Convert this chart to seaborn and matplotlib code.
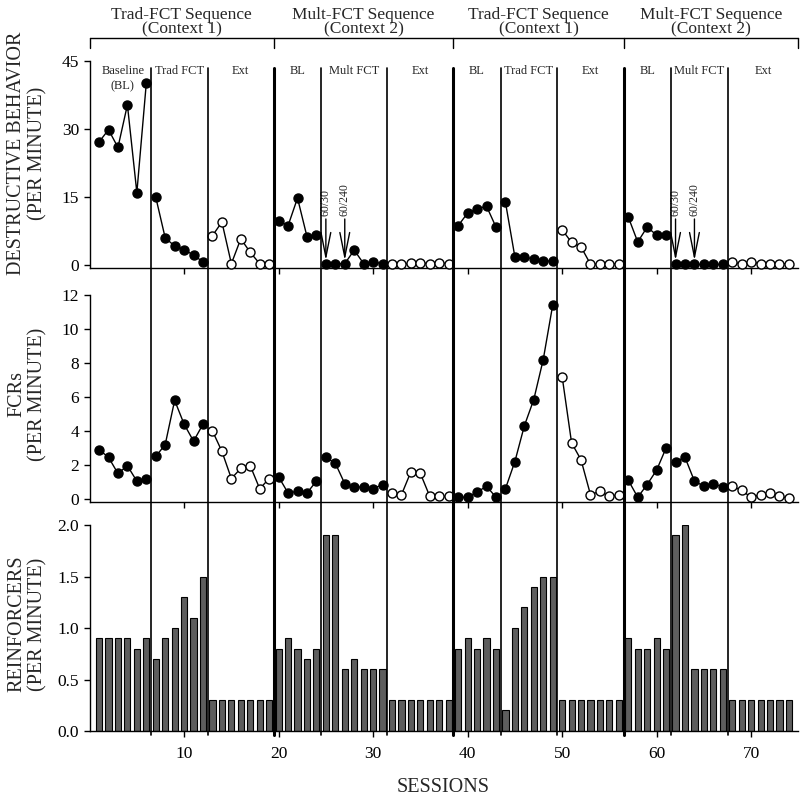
import numpy as np
import pandas as pd
import matplotlib
matplotlib.use('Agg')
import matplotlib.pyplot as plt
import matplotlib.transforms as mtransforms
from matplotlib.lines import Line2D
import seaborn as sns

# session numbers
sessions = np.arange(1, 75)

# destructive behavior per minute
destructive = [27.1, 29.8, 25.9, 35.3, 15.9, 40.1,
               14.9, 5.9, 4.1, 3.3, 2.1, 0.6,
               6.4, 9.4, 0.2, 5.7, 2.7, 0.2, 0.2,
               9.7, 8.6, 14.7, 6.2, 6.6,
               0.2, 0.2, 0.2, 3.2, 0.2, 0.6, 0.2,
               0.2, 0.1, 0.3, 0.4, 0.2, 0.4, 0.2,
               8.6, 11.4, 12.3, 12.9, 8.3,
               13.8, 1.7, 1.6, 1.3, 0.9, 0.7,
               7.7, 4.9, 3.9, 0.1, 0.1, 0.2, 0.1,
               10.5, 5.0, 8.3, 6.5, 6.6,
               0.2, 0.2, 0.2, 0.2, 0.2, 0.2,
               0.5, 0.2, 0.6, 0.2, 0.2, 0.2, 0.2]

# FCRs per minute
fcr = [2.9, 2.45, 1.5, 1.95, 1.05, 1.2,
       2.5, 3.2, 5.8, 4.4, 3.4, 4.4,
       4.0, 2.8, 1.2, 1.8, 1.95, 0.6, 1.2,
       1.3, 0.35, 0.45, 0.35, 1.05,
       2.45, 2.1, 0.9, 0.7, 0.7, 0.6, 0.85,
       0.35, 0.25, 1.6, 1.5, 0.15, 0.15, 0.15,
       0.1, 0.1, 0.4, 0.75, 0.1,
       0.6, 2.2, 4.3, 5.85, 8.2, 11.4,
       7.2, 3.3, 2.3, 0.25, 0.45, 0.15, 0.25,
       1.1, 0.1, 0.85, 1.7, 3.0,
       2.2, 2.45, 1.05, 0.75, 0.9, 0.7,
       0.75, 0.5, 0.1, 0.25, 0.35, 0.15, 0.05]

# reinforcers per minute
reinforcers = [0.9, 0.9, 0.9, 0.9, 0.8, 0.9,
               0.7, 0.9, 1.0, 1.3, 1.1, 1.5,
               0.3, 0.3, 0.3, 0.3, 0.3, 0.3, 0.3,
               0.8, 0.9, 0.8, 0.7, 0.8,
               1.9, 1.9, 0.6, 0.7, 0.6, 0.6, 0.6,
               0.3, 0.3, 0.3, 0.3, 0.3, 0.3, 0.3,
               0.8, 0.9, 0.8, 0.9, 0.8,
               0.2, 1.0, 1.2, 1.4, 1.5, 1.5,
               0.3, 0.3, 0.3, 0.3, 0.3, 0.3, 0.3,
               0.9, 0.8, 0.8, 0.9, 0.8,
               1.9, 2.0, 0.6, 0.6, 0.6, 0.6,
               0.3, 0.3, 0.3, 0.3, 0.3, 0.3, 0.3]

# phases: first session of each phase and its label
phase_starts = [1, 7, 13, 20, 25, 32, 39, 44, 50, 57, 62, 68]
phase_labels = ["Baseline\n(BL)", "Trad FCT", "Ext", "BL", "Mult FCT", "Ext",
                "BL", "Trad FCT", "Ext", "BL", "Mult FCT", "Ext"]
phase_lines = [6.5, 12.5, 19.5, 24.5, 31.5, 38.5, 43.5, 49.5, 56.5, 61.5, 67.5]
context_lines = [19.5, 38.5, 56.5]
sequence_edges = [0, 19.5, 38.5, 56.5, 75]
sequence_labels = ["Trad-FCT Sequence\n(Context 1)", "Mult-FCT Sequence\n(Context 2)",
                   "Trad-FCT Sequence\n(Context 1)", "Mult-FCT Sequence\n(Context 2)"]
# schedule-thinning arrows (session, label)
arrow_sessions = [25, 27, 62, 64]
arrow_labels = ["60/30", "60/240", "60/30", "60/240"]

df = pd.DataFrame({'session': sessions, 'destructive': destructive,
                   'fcr': fcr, 'reinforcers': reinforcers})
df['phase'] = np.searchsorted(phase_starts, df['session'], side='right') - 1
df['ext'] = df['phase'].map(lambda p: phase_labels[p] == 'Ext')

sns.set_style('ticks')
plt.rcParams['font.family'] = ['Liberation Serif', 'DejaVu Serif']

fig = plt.figure(figsize=(8, 7.99), dpi=100)
ax1 = fig.add_axes([0.112, 0.6646, 0.886, 0.2591])
ax2 = fig.add_axes([0.112, 0.3717, 0.886, 0.2591], sharex=ax1)
ax3 = fig.add_axes([0.112, 0.0851, 0.886, 0.2578], sharex=ax1)

for ax, col in [(ax1, 'destructive'), (ax2, 'fcr')]:
    for p, seg in df.groupby('phase'):
        face = 'white' if seg['ext'].iloc[0] else 'black'
        sns.lineplot(data=seg, x='session', y=col, ax=ax, color='black', lw=1,
                     marker='o', markersize=6.5, markerfacecolor=face,
                     markeredgecolor='black', markeredgewidth=1, legend=False,
                     clip_on=False, zorder=3)

sns.barplot(data=df, x='session', y='reinforcers', ax=ax3, native_scale=True,
            width=0.65, color='#5e5e5e', saturation=1, edgecolor='black',
            linewidth=0.8, errorbar=None)

ax1.set_ylim(-0.75, 45)
ax1.set_yticks([0, 15, 30, 45])
ax2.set_ylim(-0.18, 12)
ax2.set_yticks([0, 2, 4, 6, 8, 10, 12])
ax3.set_ylim(0, 2.0)
ax3.set_yticks([0.0, 0.5, 1.0, 1.5, 2.0])
ax3.set_yticklabels(['0.0', '0.5', '1.0', '1.5', '2.0'])
ax3.set_xlim(0, 75)
ax3.set_xticks([10, 20, 30, 40, 50, 60, 70])

for ax in (ax1, ax2, ax3):
    sns.despine(ax=ax)
    ax.tick_params(direction='out', length=4, width=1, labelsize=12.5, colors='black')
    for s in ('left', 'bottom'):
        ax.spines[s].set_linewidth(1)
        ax.spines[s].set_color('black')
    ax.set_xlabel('')
    ax.set_facecolor('white')
ax1.tick_params(labelbottom=False)
ax2.tick_params(labelbottom=False)
ax3.tick_params(axis='x', pad=7)

ax1.set_ylabel("DESTRUCTIVE BEHAVIOR\n(PER MINUTE)", fontsize=14.5, linespacing=1.1)
ax2.set_ylabel("FCRs\n(PER MINUTE)", fontsize=14.5, linespacing=1.1)
ax3.set_ylabel("REINFORCERS\n(PER MINUTE)", fontsize=14.5, linespacing=1.1)
ax1.yaxis.set_label_coords(-0.06, 0.553)
ax2.yaxis.set_label_coords(-0.06, 0.52)
ax3.yaxis.set_label_coords(-0.06, 0.52)

fig.text(0.554, 0.002, "SESSIONS", fontsize=14.5, ha='center', va='bottom')

# phase change lines through all panels
blend = mtransforms.blended_transform_factory(ax3.transData, fig.transFigure)
for x in phase_lines:
    lw = 2.2 if x in context_lines else 1.2
    fig.add_artist(Line2D([x, x], [0.9149, 0.0801], transform=blend,
                          color='black', lw=lw))

# phase labels
ends = phase_starts[1:] + [75.5]
for start, end, lab in zip(phase_starts, ends, phase_labels):
    cx = (start - 0.5 + end - 0.5) / 2
    ax1.text(cx, 0.952 if '\n' not in lab else 0.915, lab, fontsize=9,
             ha='center', va='center', linespacing=1.3,
             transform=mtransforms.blended_transform_factory(ax1.transData, ax1.transAxes))

# sequence bracket and headers
ybr = 1 - 38 / 799
ytk = 1 - 48 / 799
fig.add_artist(Line2D([sequence_edges[0], sequence_edges[-1]], [ybr, ybr],
                      transform=blend, color='black', lw=1))
for x in sequence_edges:
    fig.add_artist(Line2D([x, x], [ybr, ytk], transform=blend, color='black', lw=1))
for a, b, lab in zip(sequence_edges[:-1], sequence_edges[1:], sequence_labels):
    fig.text((a + b) / 2, 1 - 22 / 799, lab, transform=blend, fontsize=12.5,
             ha='center', va='center', linespacing=0.9)

# schedule thinning arrows
for s, lab in zip(arrow_sessions, arrow_labels):
    ax1.annotate(lab, xy=(s, 0.9), xytext=(s, 10.8), fontsize=8.5, rotation=90,
                 ha='center', va='bottom',
                 arrowprops=dict(arrowstyle='->,head_length=0.8,head_width=0.16',
                                 color='black', lw=1, mutation_scale=22,
                                 shrinkA=0, shrinkB=0))

fig.savefig('out.png', dpi=100, facecolor='white')
